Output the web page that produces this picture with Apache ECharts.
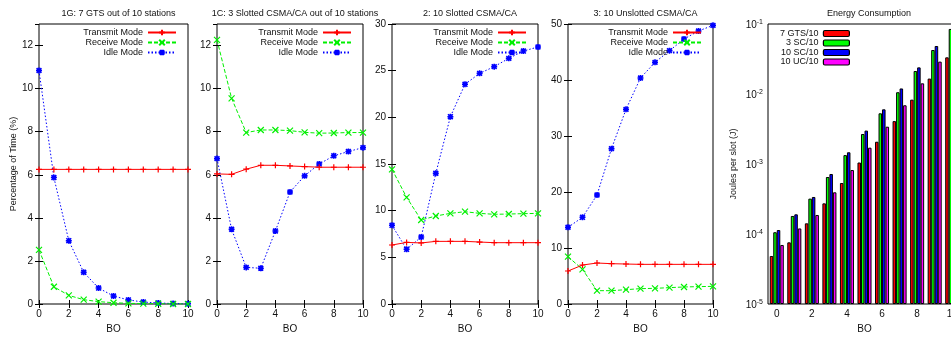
<!DOCTYPE html>
<html>
<head>
<meta charset="utf-8">
<script src="https://cdn.jsdelivr.net/npm/echarts@6/dist/echarts.min.js"></script>
<style>
html, body { margin: 0; padding: 0; background: #fff; }
#chart { width: 951px; height: 337px; }
</style>
</head>
<body>
<div id="chart"></div>
<script>
// BO values (x axis)
var bo = [0, 1, 2, 3, 4, 5, 6, 7, 8, 9, 10];
var boLabels = bo.map(String);
var modeNames = ['Transmit Mode', 'Receive Mode', 'Idle Mode'];
var energyNames = ['7 GTS/10', '3 SC/10', '10 SC/10', '10 UC/10'];
var titles = ['1G: 7 GTS out of 10 stations', '1C: 3 Slotted CSMA/CA out of 10 stations',
  '2: 10 Slotted CSMA/CA', '3: 10 Unslotted CSMA/CA', 'Energy Consumption'];

// percentage of time (%)
var gtsTransmit = [6.25, 6.25, 6.25, 6.25, 6.25, 6.25, 6.25, 6.25, 6.25, 6.25, 6.25];
var gtsReceive = [2.51, 0.80, 0.40, 0.20, 0.11, 0.06, 0.03, 0.02, 0.01, 0, 0];
var gtsIdle = [10.84, 5.87, 2.94, 1.47, 0.74, 0.37, 0.19, 0.09, 0.05, 0.02, 0.01];

var sc3Transmit = [6.04, 6.02, 6.26, 6.44, 6.44, 6.41, 6.38, 6.35, 6.35, 6.35, 6.35];
var sc3Receive = [12.26, 9.55, 7.96, 8.08, 8.08, 8.05, 7.97, 7.93, 7.94, 7.96, 7.96];
var sc3Idle = [6.75, 3.47, 1.70, 1.66, 3.39, 5.20, 5.95, 6.50, 6.88, 7.08, 7.26];

var sc10Transmit = [6.32, 6.60, 6.54, 6.71, 6.71, 6.71, 6.64, 6.57, 6.57, 6.57, 6.57];
var sc10Receive = [14.43, 11.43, 9.00, 9.43, 9.71, 9.89, 9.71, 9.61, 9.64, 9.68, 9.71];
var sc10Idle = [8.43, 5.86, 7.18, 14.00, 20.07, 23.54, 24.71, 25.43, 26.32, 27.10, 27.54];

var uc10Transmit = [5.89, 6.96, 7.32, 7.20, 7.14, 7.08, 7.08, 7.08, 7.08, 7.08, 7.08];
var uc10Receive = [8.45, 6.19, 2.38, 2.38, 2.56, 2.74, 2.80, 2.92, 3.04, 3.10, 3.15];
var uc10Idle = [13.69, 15.48, 19.46, 27.74, 34.76, 40.36, 43.15, 45.24, 47.32, 48.75, 49.76];

// joules per slot
var gtsEnergy = [4.85e-5, 7.6e-5, 1.42e-4, 2.74e-4, 5.35e-4, 1.05e-3, 2.08e-3, 4.1e-3, 8.3e-3, 1.66e-2, 3.34e-2];
var sc3Energy = [1.06e-4, 1.81e-4, 3.2e-4, 6.52e-4, 1.34e-3, 2.68e-3, 5.3e-3, 1.06e-2, 2.13e-2, 4.25e-2, 8.5e-2];
var sc10Energy = [1.14e-4, 1.91e-4, 3.38e-4, 7.2e-4, 1.47e-3, 3.0e-3, 6.04e-3, 1.2e-2, 2.4e-2, 4.85e-2, 9.6e-2];
var ucEnergy = [6.97e-5, 1.2e-4, 1.87e-4, 3.94e-4, 8.2e-4, 1.71e-3, 3.41e-3, 6.9e-3, 1.42e-2, 2.9e-2, 5.8e-2];
var minorTicks = [2e-5, 5e-5, 2e-4, 5e-4, 2e-3, 5e-3, 2e-2, 5e-2];

var lineData = [
  [gtsTransmit, gtsReceive, gtsIdle],
  [sc3Transmit, sc3Receive, sc3Idle],
  [sc10Transmit, sc10Receive, sc10Idle],
  [uc10Transmit, uc10Receive, uc10Idle]
];

var FONT = 'Liberation Sans';
var TXT = '#111';
var chartW = 951;

var panels = [
  { left: 39, width: 149, max: 13, interval: 2 },
  { left: 217, width: 146, max: 13, interval: 2 },
  { left: 392, width: 146, max: 30, interval: 5 },
  { left: 568, width: 145, max: 50, interval: 10 }
];

var plusPath = 'path://M0,5L10,5M5,0L5,10';
var crossPath = 'path://M0,0L10,10M10,0L0,10';
var starPath = 'path://M0,5L10,5M5,0L5,10M1,1L9,9M9,1L1,9';
var lineStyles = [
  { color: '#ff0000', type: 'solid', symbol: plusPath },
  { color: '#00f000', type: [4, 2], symbol: crossPath },
  { color: '#0000ff', type: [1.5, 2], symbol: starPath }
];
var barColors = ['#ff0000', '#00ff00', '#0000ff', '#ff00ff'];

var grids = [], xAxes = [], yAxes = [], series = [], titleList = [], legends = [];

function tickStyle() {
  return { inside: true, length: 4, lineStyle: { color: '#000', width: 1 } };
}

panels.forEach(function (p, k) {
  grids.push({ left: p.left, top: 24, width: p.width, height: 280, show: true,
    borderColor: '#000', borderWidth: 1, outerBoundsMode: 'none' });
  xAxes.push({ gridIndex: k, type: 'value', min: 0, max: 10, interval: 2, position: 'bottom',
    axisLine: { show: false }, splitLine: { show: false }, axisTick: tickStyle(),
    axisLabel: { color: TXT, fontFamily: FONT, fontSize: 10, margin: 5 },
    name: 'BO', nameLocation: 'middle', nameGap: 19,
    nameTextStyle: { color: TXT, fontFamily: FONT, fontSize: 10 } });
  xAxes.push({ gridIndex: k, type: 'value', min: 0, max: 10, interval: 2, position: 'top',
    axisLine: { show: false }, splitLine: { show: false }, axisTick: tickStyle(),
    axisLabel: { show: false } });
  var yl = { gridIndex: k, type: 'value', min: 0, max: p.max, interval: p.interval, position: 'left',
    axisLine: { show: false }, splitLine: { show: false }, axisTick: tickStyle(),
    axisLabel: { color: TXT, fontFamily: FONT, fontSize: 10, margin: 6, showMaxLabel: p.max % p.interval === 0 } };
  if (k === 0) {
    yl.name = 'Percentage of Time (%)';
    yl.nameLocation = 'middle';
    yl.nameGap = 20;
    yl.nameTextStyle = { color: TXT, fontFamily: FONT, fontSize: 9 };
  }
  yAxes.push(yl);
  yAxes.push({ gridIndex: k, type: 'value', min: 0, max: p.max, interval: p.interval, position: 'right',
    axisLine: { show: false }, splitLine: { show: false }, axisTick: tickStyle(),
    axisLabel: { show: false } });

  titleList.push({ text: titles[k], left: p.left + p.width / 2, top: 4, textAlign: 'center',
    textStyle: { color: TXT, fontFamily: FONT, fontSize: 9, fontWeight: 'normal' } });

  modeNames.forEach(function (name, m) {
    var st = lineStyles[m];
    series.push({
      name: name, type: 'line', xAxisIndex: 2 * k, yAxisIndex: 2 * k,
      data: bo.map(function (b, i) { return [b, lineData[k][m][i]]; }),
      symbol: st.symbol, symbolSize: 6, showAllSymbol: true, animation: false,
      lineStyle: { color: st.color, width: 1, type: st.type },
      itemStyle: { color: st.color, borderColor: st.color, borderWidth: m === 2 ? 1.6 : 1.2 },
      emphasis: { disabled: true }, z: 3 - m
    });
  });

  legends.push({ data: modeNames, orient: 'vertical', align: 'right', selectedMode: false,
    right: chartW - (p.left + p.width - 11), top: 28, padding: 0, itemGap: 1,
    itemWidth: 28, itemHeight: 7,
    textStyle: { color: TXT, fontFamily: FONT, fontSize: 9 } });
});

// energy panel (log scale bars), runs past the right edge of the picture
grids.push({ left: 768, top: 24, width: 193, height: 280, show: true,
  borderColor: '#000', borderWidth: 1, outerBoundsMode: 'none' });
xAxes.push({ gridIndex: 4, type: 'category', data: boLabels, position: 'bottom',
  axisLine: { show: false },
  axisTick: { inside: true, length: 4, alignWithLabel: true, interval: 1, lineStyle: { color: '#000' } },
  axisLabel: { interval: 1, color: TXT, fontFamily: FONT, fontSize: 10, margin: 5 },
  name: 'BO', nameLocation: 'middle', nameGap: 19,
  nameTextStyle: { color: TXT, fontFamily: FONT, fontSize: 10 } });
xAxes.push({ gridIndex: 4, type: 'category', data: boLabels, position: 'top',
  axisLine: { show: false },
  axisTick: { inside: true, length: 4, alignWithLabel: true, interval: 1, lineStyle: { color: '#000' } },
  axisLabel: { show: false } });
yAxes.push({ gridIndex: 4, type: 'log', logBase: 10, min: 1e-5, max: 0.1, startValue: 1e-5,
  position: 'left', axisLine: { show: false }, splitLine: { show: false },
  axisTick: tickStyle(),
  axisLabel: { margin: 5, fontFamily: FONT, color: TXT,
    formatter: function (v) { return '{b|10}{s|' + Math.round(Math.log10(v)) + '}'; },
    rich: {
      b: { fontSize: 10, lineHeight: 10, padding: [3, 0, 0, 0], fontFamily: FONT, color: TXT },
      s: { fontSize: 7, lineHeight: 7, verticalAlign: 'top', fontFamily: FONT, color: TXT }
    } },
  name: 'Joules per slot (J)', nameLocation: 'middle', nameGap: 30,
  nameTextStyle: { color: TXT, fontFamily: FONT, fontSize: 9 } });
yAxes.push({ gridIndex: 4, type: 'log', logBase: 10, min: 1e-5, max: 0.1, position: 'left',
  axisLine: { show: false }, splitLine: { show: false },
  axisTick: { inside: true, length: 2, customValues: minorTicks, lineStyle: { color: '#000' } },
  axisLabel: { show: false } });

var energyData = [gtsEnergy, sc3Energy, sc10Energy, ucEnergy];
energyNames.forEach(function (name, j) {
  series.push({
    name: name, type: 'bar', xAxisIndex: 8, yAxisIndex: 8, data: energyData[j],
    barGap: '0%', barCategoryGap: '20%', animation: false,
    itemStyle: { color: barColors[j], borderColor: '#000', borderWidth: 1 },
    emphasis: { disabled: true }
  });
});
legends.push({ data: energyNames, orient: 'vertical', align: 'right', selectedMode: false,
  right: chartW - 850, top: 29, padding: 0, itemGap: 0.5, itemWidth: 26, itemHeight: 6,
  itemStyle: { borderWidth: 1.2 },
  textStyle: { color: TXT, fontFamily: FONT, fontSize: 9 } });
titleList.push({ text: titles[4], left: 864, top: 4, textAlign: 'center',
  textStyle: { color: TXT, fontFamily: FONT, fontSize: 9, fontWeight: 'normal' } });

var chart = echarts.init(document.getElementById('chart'), null, { renderer: 'canvas' });
chart.setOption({
  backgroundColor: '#fff',
  animation: false,
  title: titleList,
  legend: legends,
  grid: grids,
  xAxis: xAxes,
  yAxis: yAxes,
  series: series
});
</script>
</body>
</html>
